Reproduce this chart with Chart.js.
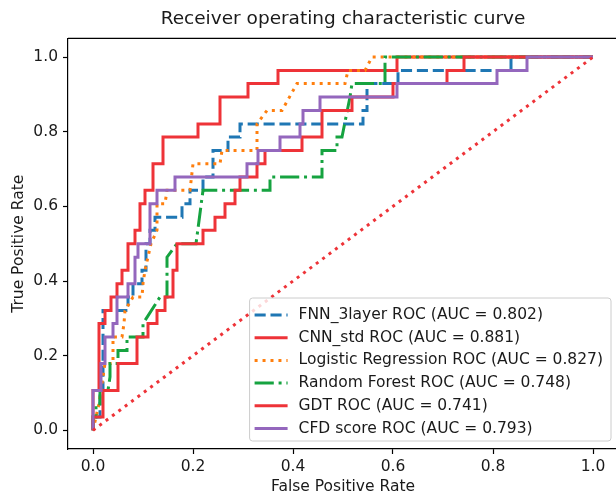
<!DOCTYPE html>
<html>
<head>
<meta charset="utf-8">
<script src="https://cdn.jsdelivr.net/npm/chart.js@4.4.1/dist/chart.umd.min.js"></script>
<style>
html, body { margin: 0; padding: 0; overflow: hidden; background: #fff; }
canvas { display: block; }
</style>
</head>
<body>
<canvas id="rocChart" width="622" height="493"></canvas>
<script>
// ROC curves: false positive rate (x) / true positive rate (y)
const tickValues = [0, 0.2, 0.4, 0.6, 0.8, 1.0];

const modelNames = ['FNN_3layer', 'CNN_std', 'Logistic Regression', 'Random Forest', 'GDT', 'CFD score'];
const aucValues = [0.802, 0.881, 0.827, 0.748, 0.741, 0.793];

const fnnFpr = [0, 0, 0.014, 0.014, 0.02, 0.02, 0.07, 0.07, 0.08, 0.08, 0.098, 0.098, 0.106, 0.106, 0.114, 0.114, 0.124, 0.124, 0.178, 0.178, 0.194, 0.194, 0.22, 0.22, 0.24, 0.24, 0.27, 0.27, 0.294, 0.294, 0.54, 0.54, 0.548, 0.548, 0.61, 0.61, 0.836, 0.836, 1];
const fnnTpr = [0, 0.036, 0.036, 0.107, 0.107, 0.321, 0.321, 0.357, 0.357, 0.393, 0.393, 0.429, 0.429, 0.5, 0.5, 0.536, 0.536, 0.571, 0.571, 0.607, 0.607, 0.643, 0.643, 0.679, 0.679, 0.75, 0.75, 0.786, 0.786, 0.821, 0.821, 0.857, 0.857, 0.929, 0.929, 0.964, 0.964, 1, 1];

const cnnFpr = [0, 0, 0.012, 0.012, 0.024, 0.024, 0.036, 0.036, 0.048, 0.048, 0.058, 0.058, 0.07, 0.07, 0.084, 0.084, 0.094, 0.094, 0.104, 0.104, 0.12, 0.12, 0.14, 0.14, 0.21, 0.21, 0.254, 0.254, 0.31, 0.31, 0.37, 0.37, 0.608, 0.608, 1];
const cnnTpr = [0, 0.107, 0.107, 0.286, 0.286, 0.321, 0.321, 0.357, 0.357, 0.393, 0.393, 0.429, 0.429, 0.5, 0.5, 0.536, 0.536, 0.607, 0.607, 0.643, 0.643, 0.714, 0.714, 0.786, 0.786, 0.821, 0.821, 0.893, 0.893, 0.929, 0.929, 0.964, 0.964, 1, 1];

const lrFpr = [0, 0.006, 0.012, 0.016, 0.02, 0.024, 0.04, 0.04, 0.058, 0.062, 0.064, 0.08, 0.098, 0.1, 0.104, 0.116, 0.128, 0.128, 0.144, 0.148, 0.194, 0.2, 0.254, 0.258, 0.328, 0.328, 0.348, 0.378, 0.408, 0.504, 0.51, 0.544, 0.558, 1];
const lrTpr = [0, 0.036, 0.071, 0.107, 0.143, 0.179, 0.179, 0.25, 0.25, 0.286, 0.321, 0.357, 0.357, 0.393, 0.429, 0.5, 0.536, 0.607, 0.607, 0.643, 0.643, 0.714, 0.714, 0.75, 0.75, 0.821, 0.857, 0.857, 0.929, 0.929, 0.964, 0.964, 1, 1];

const rfFpr = [0, 0, 0.006, 0.006, 0.014, 0.014, 0.03, 0.034, 0.034, 0.05, 0.05, 0.068, 0.068, 0.1, 0.1, 0.134, 0.148, 0.148, 0.168, 0.206, 0.22, 0.354, 0.354, 0.458, 0.458, 0.488, 0.488, 0.498, 0.514, 0.518, 0.584, 0.584, 1];
const rfTpr = [0, 0.036, 0.036, 0.071, 0.071, 0.107, 0.107, 0.143, 0.179, 0.179, 0.214, 0.214, 0.25, 0.25, 0.286, 0.357, 0.357, 0.464, 0.5, 0.5, 0.643, 0.643, 0.679, 0.679, 0.75, 0.75, 0.786, 0.786, 0.893, 0.929, 0.929, 1, 1];

const gdtFpr = [0, 0, 0.02, 0.02, 0.05, 0.05, 0.088, 0.088, 0.11, 0.11, 0.128, 0.128, 0.144, 0.144, 0.16, 0.16, 0.168, 0.168, 0.22, 0.22, 0.244, 0.244, 0.264, 0.264, 0.284, 0.284, 0.294, 0.294, 0.328, 0.328, 0.344, 0.344, 0.418, 0.418, 0.458, 0.458, 0.518, 0.518, 0.6, 0.6, 0.708, 0.708, 0.742, 0.742, 1];
const gdtTpr = [0, 0.036, 0.036, 0.107, 0.107, 0.179, 0.179, 0.25, 0.25, 0.286, 0.286, 0.321, 0.321, 0.357, 0.357, 0.429, 0.429, 0.5, 0.5, 0.536, 0.536, 0.571, 0.571, 0.607, 0.607, 0.643, 0.643, 0.679, 0.679, 0.714, 0.714, 0.75, 0.75, 0.786, 0.786, 0.857, 0.857, 0.893, 0.893, 0.929, 0.929, 0.964, 0.964, 1, 1];

const cfdFpr = [0, 0, 0.016, 0.016, 0.024, 0.024, 0.04, 0.04, 0.048, 0.048, 0.07, 0.07, 0.084, 0.084, 0.09, 0.09, 0.114, 0.114, 0.128, 0.128, 0.164, 0.164, 0.308, 0.308, 0.33, 0.33, 0.374, 0.374, 0.414, 0.414, 0.42, 0.42, 0.454, 0.454, 0.608, 0.608, 0.808, 0.808, 0.868, 0.868, 1];
const cfdTpr = [0, 0.107, 0.107, 0.179, 0.179, 0.25, 0.25, 0.286, 0.286, 0.357, 0.357, 0.393, 0.393, 0.464, 0.464, 0.5, 0.5, 0.607, 0.607, 0.643, 0.643, 0.679, 0.679, 0.714, 0.714, 0.75, 0.75, 0.786, 0.786, 0.821, 0.821, 0.857, 0.857, 0.893, 0.893, 0.929, 0.929, 0.964, 0.964, 1, 1];

// chance line
const chanceFpr = [0, 1];
const chanceTpr = [0, 1];

const curveFpr = [fnnFpr, cnnFpr, lrFpr, rfFpr, gdtFpr, cfdFpr];
const curveTpr = [fnnTpr, cnnTpr, lrTpr, rfTpr, gdtTpr, cfdTpr];

// styles
const lineColors = ['#1f77b4', '#ee3338', '#ff7f0e', '#16a340', '#ee3338', '#9467bd'];
const lineDashes = [[11.1, 4.8], [], [3, 4.95], [19.2, 4.8, 3, 4.8], [], []];
const textColor = '#1a1a1a';
const fontFamily = '"DejaVu Sans", sans-serif';

function toPoints(xs, ys) {
    return xs.map((x, i) => ({ x: x, y: ys[i] }));
}

const datasets = modelNames.map((name, i) => ({
    label: name + ' ROC (AUC = ' + aucValues[i].toFixed(3) + ')',
    data: toPoints(curveFpr[i], curveTpr[i]),
    borderColor: lineColors[i],
    borderDash: lineDashes[i],
    borderWidth: 3,
    pointRadius: 0,
    fill: false,
    tension: 0,
    order: 10 - i // later curves on top, like matplotlib
}));

datasets.push({
    label: '',
    data: toPoints(chanceFpr, chanceTpr),
    borderColor: '#ee3338',
    borderDash: [3, 4.95],
    borderWidth: 3,
    pointRadius: 0,
    fill: false,
    tension: 0,
    order: 0
});

// top/right spines and the legend box in the lower right corner
const frameAndLegend = {
    id: 'frameAndLegend',
    afterDatasetsDraw(chart) {
        const ctx = chart.ctx;
        const area = chart.chartArea;
        ctx.save();
        ctx.strokeStyle = '#000';
        ctx.lineWidth = 1.2;
        ctx.setLineDash([]);
        ctx.beginPath();
        ctx.moveTo(area.left, area.top);
        ctx.lineTo(area.right, area.top);
        ctx.lineTo(area.right, area.bottom);
        ctx.stroke();

        const items = chart.data.datasets.filter(d => d.label);
        ctx.font = '15.5px ' + fontFamily;
        const textW = Math.max(...items.map(d => ctx.measureText(d.label).width));
        const rowH = 22.7;
        const boxW = 49 + textW + 8;
        const boxH = 143;
        const right = area.right - 7;
        const bottom = area.bottom - 8;
        const left = right - boxW;
        const top = bottom - boxH;
        const r = 3;

        ctx.beginPath();
        ctx.moveTo(left + r, top);
        ctx.lineTo(right - r, top);
        ctx.quadraticCurveTo(right, top, right, top + r);
        ctx.lineTo(right, bottom - r);
        ctx.quadraticCurveTo(right, bottom, right - r, bottom);
        ctx.lineTo(left + r, bottom);
        ctx.quadraticCurveTo(left, bottom, left, bottom - r);
        ctx.lineTo(left, top + r);
        ctx.quadraticCurveTo(left, top, left + r, top);
        ctx.closePath();
        ctx.fillStyle = 'rgba(255,255,255,0.8)';
        ctx.fill();
        ctx.strokeStyle = '#cccccc';
        ctx.lineWidth = 1;
        ctx.stroke();

        ctx.textBaseline = 'middle';
        ctx.textAlign = 'left';
        items.forEach((d, i) => {
            const y = top + 17 + i * rowH;
            ctx.strokeStyle = d.borderColor;
            ctx.lineWidth = d.borderWidth;
            ctx.setLineDash(d.borderDash || []);
            ctx.beginPath();
            ctx.moveTo(left + 5, y);
            ctx.lineTo(left + 38, y);
            ctx.stroke();
            ctx.fillStyle = textColor;
            ctx.fillText(d.label, left + 49, y);
        });
        ctx.restore();
    }
};

function fixedTicks(scale) {
    scale.ticks = tickValues.map(v => ({ value: v }));
}

new Chart(document.getElementById('rocChart'), {
    type: 'line',
    data: { datasets: datasets },
    options: {
        responsive: false,
        animation: false,
        layout: { padding: { left: 0, right: 4, top: 0, bottom: 0 } },
        plugins: {
            legend: { display: false },
            tooltip: { enabled: false },
            title: {
                display: true,
                fullSize: false,
                text: 'Receiver operating characteristic curve',
                color: textColor,
                font: { family: fontFamily, size: 18.5, weight: 'normal', lineHeight: 1.2 },
                padding: { top: 8.4, bottom: 7.8 }
            }
        },
        scales: {
            x: {
                type: 'linear',
                min: -0.05,
                max: 1.05,
                afterBuildTicks: fixedTicks,
                afterFit: s => { s.height = 44; },
                ticks: {
                    callback: v => v.toFixed(1),
                    color: textColor,
                    font: { family: fontFamily, size: 15.5 },
                    padding: 4,
                    maxRotation: 0,
                    autoSkip: false
                },
                grid: { drawOnChartArea: false, drawTicks: true, tickLength: 5, color: '#000', tickWidth: 1.2 },
                border: { display: true, color: '#000', width: 1.2 },
                title: {
                    display: true,
                    text: 'False Positive Rate',
                    color: textColor,
                    font: { family: fontFamily, size: 15.5, lineHeight: 1 },
                    padding: { top: 0, bottom: -2 }
                }
            },
            y: {
                type: 'linear',
                min: -0.05,
                max: 1.05,
                afterBuildTicks: fixedTicks,
                afterFit: s => { s.width = 68; },
                ticks: {
                    callback: v => v.toFixed(1),
                    color: textColor,
                    font: { family: fontFamily, size: 15.5 },
                    padding: 5,
                    autoSkip: false
                },
                grid: { drawOnChartArea: false, drawTicks: true, tickLength: 5, color: '#000', tickWidth: 1.2 },
                border: { display: true, color: '#000', width: 1.2 },
                title: {
                    display: true,
                    text: 'True Positive Rate',
                    color: textColor,
                    font: { family: fontFamily, size: 15.5, lineHeight: 1 },
                    padding: { top: 11, bottom: 0 }
                }
            }
        }
    },
    plugins: [frameAndLegend]
});
</script>
</body>
</html>
